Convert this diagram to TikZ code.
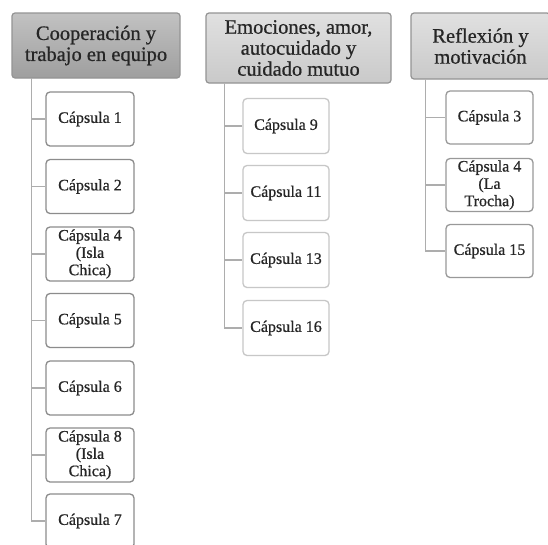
\documentclass[tikz,border=0pt]{standalone}
\usepackage{fontspec}
\setmainfont{Liberation Serif}
\newfontfamily\scanfont{Liberation Serif}[FakeBold=0.7]
\begin{document}
\begin{tikzpicture}[x=1pt,y=-1pt,
  hdr/.style={draw=black!42, line width=1.2pt, rounded corners=3pt, align=center, inner sep=0pt,
     font=\scanfont\fontsize{20.5}{21}\selectfont, text=black!85},
  hdrA/.style={hdr, top color=black!24, bottom color=black!38},
  hdrB/.style={hdr, top color=black!12, bottom color=black!21},
  capbox/.style={draw=black!45, line width=1.3pt, rounded corners=4pt, fill=white, align=center, inner sep=0pt,
     font=\scanfont\fontsize{16}{17.3}\selectfont, text=black!85},
  capA/.style={capbox, minimum width=88pt, minimum height=54pt},
  capB/.style={capbox, draw=black!22, minimum width=86pt, minimum height=55pt},
  capC/.style={capbox, draw=black!40, minimum width=87pt, minimum height=53pt},
  conn/.style={draw=black!32, line width=1.8pt}]
\clip (0,0) rectangle (548,544);
\fill[white] (0,0) rectangle (548,544);
% headers
\node[hdrA, minimum width=168pt, minimum height=65pt] (h1) at (96,45.5) {Cooperación y\\trabajo en equipo};
\node[hdrB, minimum width=185pt, minimum height=70pt] (h2) at (298.5,48) {Emociones, amor,\\autocuidado y\\cuidado mutuo};
\node[hdrB, minimum width=139pt, minimum height=66pt] (h3) at (480.5,46) {Reflexión y\\motivación};
% column 1
\node[capA] (a1) at (90,119) {Cápsula 1};
\node[capA] (a2) at (90,186.5) {Cápsula 2};
\node[capA] (a3) at (90,254) {Cápsula 4\\(Isla\\Chica)};
\node[capA] (a4) at (90,320.5) {Cápsula 5};
\node[capA] (a5) at (90,388) {Cápsula 6};
\node[capA] (a6) at (90,455) {Cápsula 8\\(Isla\\Chica)};
\node[capA] (a7) at (90,521) {Cápsula 7};
% column 2
\node[capB] (b1) at (286,126) {Cápsula 9};
\node[capB] (b2) at (286,193) {Cápsula 11};
\node[capB] (b3) at (286,260) {Cápsula 13};
\node[capB] (b4) at (286,328) {Cápsula 16};
% column 3
\node[capC] (c1) at (489.5,117.5) {Cápsula 3};
\node[capC] (c2) at (489.5,185) {Cápsula 4\\(La\\Trocha)};
\node[capC] (c3) at (489.5,251) {Cápsula 15};
% connectors
\foreach \n in {a1,a2,a3,a4,a5,a6,a7}
  \draw[conn] ([xshift=20pt]h1.south west) |- (\n.west);
\foreach \n in {b1,b2,b3,b4}
  \draw[conn] ([xshift=19pt]h2.south west) |- (\n.west);
\foreach \n in {c1,c2,c3}
  \draw[conn] ([xshift=15pt]h3.south west) |- (\n.west);
\end{tikzpicture}
\end{document}
